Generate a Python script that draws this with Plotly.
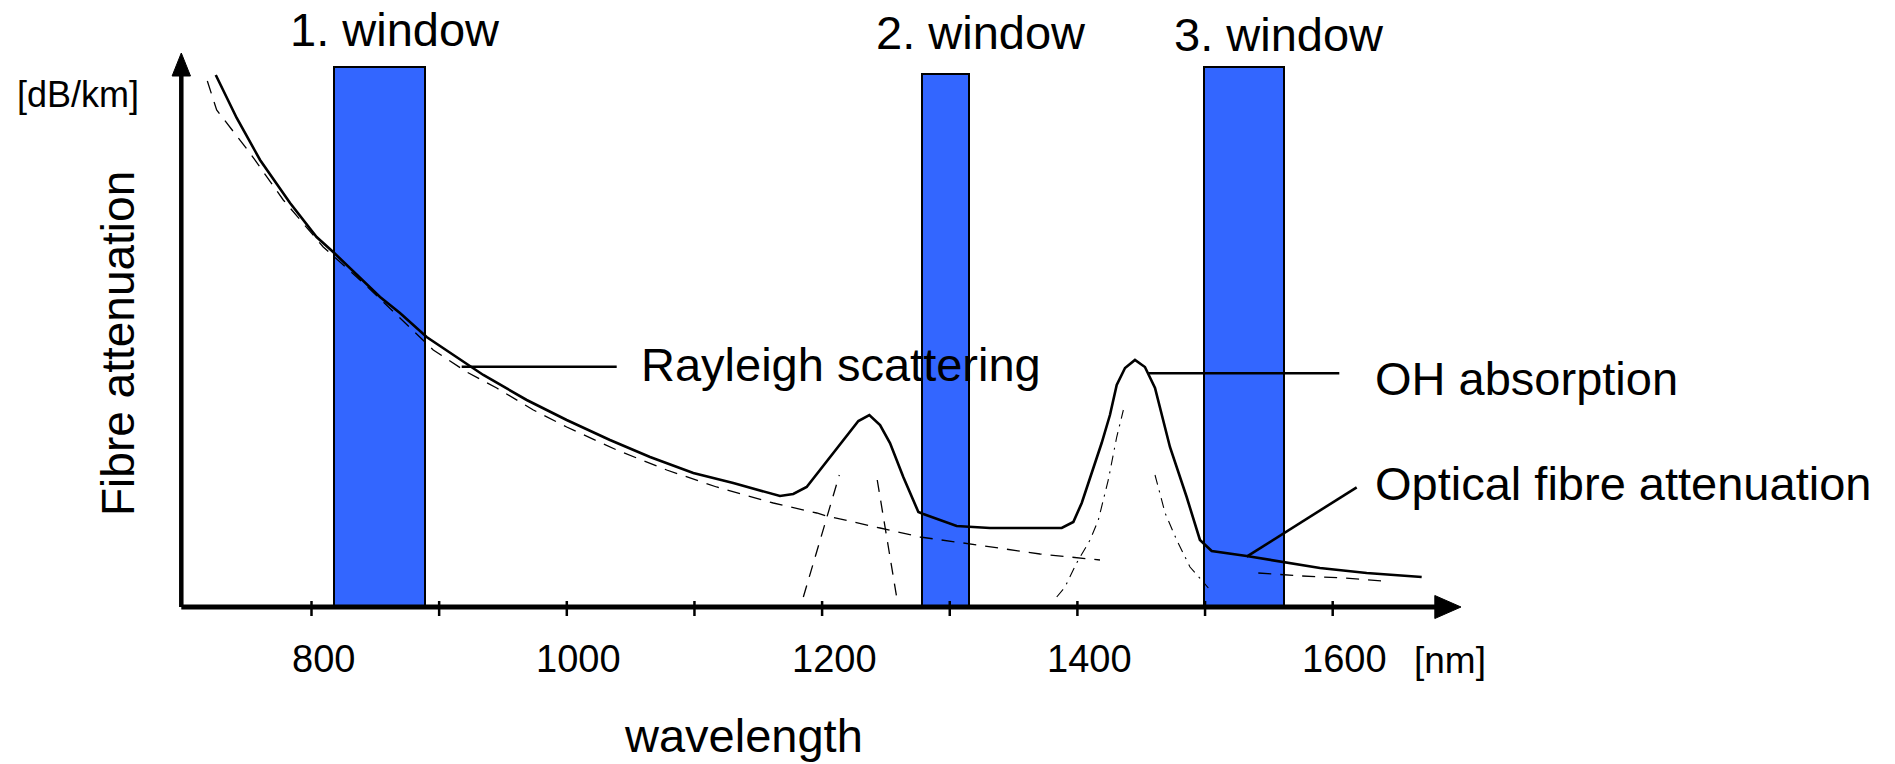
import plotly.graph_objects as go

# ---------------- data ----------------
# total optical fibre attenuation (solid curve)
wl_total = [725, 741.4, 759.7, 783.2, 804, 817, 853.7, 869.3, 890.2, 908.5,
            934.6, 968.6, 999.9, 1033.8, 1065.2, 1099.1, 1130.4, 1167, 1177.4, 1187.9,
            1200.9, 1216.6, 1228.4, 1237, 1245.4, 1253.2, 1263.6, 1275.4, 1279.3, 1305.4,
            1315.9, 1331.5, 1387.7, 1396.8, 1403.4, 1411.2, 1419, 1425.5, 1430.8, 1437.3,
            1445.1, 1452.9, 1460.8, 1472.5, 1485.6, 1496, 1505.2, 1532.6, 1561.3, 1590,
            1626.6, 1669.7]
att_total = [5.32, 4.89, 4.47, 4.04, 3.70, 3.55, 3.10, 2.94, 2.70, 2.54,
             2.32, 2.07, 1.87, 1.67, 1.50, 1.34, 1.24, 1.11, 1.13, 1.20,
             1.41, 1.67, 1.86, 1.92, 1.82, 1.64, 1.30, 0.95, 0.93, 0.81,
             0.80, 0.79, 0.79, 0.85, 1.04, 1.34, 1.64, 1.92, 2.22, 2.39,
             2.47, 2.40, 2.19, 1.60, 1.10, 0.67, 0.56, 0.51, 0.45, 0.39,
             0.34, 0.30]

# Rayleigh scattering (dashed)
wl_ray = [718.4, 725.7, 751.8, 777.9, 809.2, 840.6, 869.3, 895.4, 921.6, 945.1,
          973.8, 999.9, 1039.1, 1078.3, 1117.4, 1161.8, 1195.8, 1203.6, 1245.4, 1276.7,
          1310.6, 1349.8, 1370.7, 1417.7, None, 1541.7, 1575.7, 1608.3, 1639.6]
att_ray = [5.26, 4.97, 4.54, 4.07, 3.60, 3.24, 2.89, 2.57, 2.35, 2.19,
           1.97, 1.80, 1.57, 1.37, 1.20, 1.04, 0.94, 0.91, 0.79, 0.70,
           0.64, 0.57, 0.53, 0.47, None, 0.34, 0.31, 0.29, 0.26]

# absorption peak components (dashed / dash-dot)
wl_peak1 = [1185.3, 1213.5, None, 1243.2, 1258.4]
att_peak1 = [0.10, 1.32, None, 1.27, 0.10]
wl_peak2 = [1383.8, 1390.3, 1399.4, 1409.9, 1416.4, 1424.2, 1430.8, 1436, None,
            1460.8, 1468.7, 1477.8, 1488.2, 1502.6]
att_peak2 = [0.10, 0.20, 0.44, 0.67, 0.87, 1.27, 1.70, 1.97, None,
             1.32, 0.94, 0.67, 0.40, 0.19]

# transmission windows
win_labels = ["1. window", "2. window", "3. window"]
win_start = [818, 1278.5, 1499]
win_end = [889, 1315, 1562]
win_height = [5.40, 5.33, 5.40]

# axis ticks
tick_vals = [800, 900, 1000, 1100, 1200, 1300, 1400, 1500, 1600]
tick_labels = ["800", "", "1000", "", "1200", "", "1400", "", "1600"]

# ---------------- layout helpers (pixel geometry) ----------------
W, H = 1895, 764
X0_NM, X1_NM = 555.97, 2040.5      # data range covering full width
Y0, Y1 = -1.57, 6.07               # data range covering full height


def px(xpix):
    return xpix / W


def py(ypix):
    return 1 - ypix / H


FONT = "Liberation Sans, Arial, sans-serif"
BLUE = "#3366FF"

fig = go.Figure()

# windows (bars)
centers = [(a + b) / 2 for a, b in zip(win_start, win_end)]
widths = [b - a for a, b in zip(win_start, win_end)]
fig.add_trace(go.Bar(x=centers, y=win_height, width=widths, base=0,
                     marker=dict(color=BLUE, line=dict(color="black", width=2)),
                     showlegend=False, hoverinfo="skip"))

# component curves
fig.add_trace(go.Scatter(x=wl_ray, y=att_ray, mode="lines",
                         line=dict(color="black", width=1.3, dash="13px,9px"),
                         connectgaps=False, showlegend=False, hoverinfo="skip"))
fig.add_trace(go.Scatter(x=wl_peak1, y=att_peak1, mode="lines",
                         line=dict(color="black", width=1.3, dash="12px,9px"),
                         connectgaps=False, showlegend=False, hoverinfo="skip"))
fig.add_trace(go.Scatter(x=wl_peak2, y=att_peak2, mode="lines",
                         line=dict(color="black", width=1.1, dash="10px,6px,2px,6px"),
                         connectgaps=False, showlegend=False, hoverinfo="skip"))
# total attenuation
fig.add_trace(go.Scatter(x=wl_total, y=att_total, mode="lines",
                         line=dict(color="black", width=2.6),
                         showlegend=False, hoverinfo="skip"))

# tick marks on x-axis
tx, ty = [], []
for v in tick_vals:
    tx += [v, v, None]
    ty += [0.06, -0.09, None]
fig.add_trace(go.Scatter(x=tx, y=ty, mode="lines", line=dict(color="black", width=2.5),
                         showlegend=False, hoverinfo="skip"))

shapes = []
ax_x0 = 698.0
# axes lines
shapes.append(dict(type="line", xref="x", yref="y", x0=ax_x0, y0=0, x1=1682, y1=0,
                   line=dict(color="black", width=5)))
shapes.append(dict(type="line", xref="x", yref="y", x0=ax_x0, y0=0, x1=ax_x0, y1=5.34,
                   line=dict(color="black", width=4.5)))
# arrow heads
shapes.append(dict(type="path", xref="x", yref="y",
                   path="M 1680 0.115 L 1700.5 0 L 1680 -0.115 Z",
                   fillcolor="black", line=dict(color="black", width=1)))
shapes.append(dict(type="path", xref="x", yref="y",
                   path=f"M {ax_x0-7.2} 5.31 L {ax_x0} 5.54 L {ax_x0+7.2} 5.31 Z",
                   fillcolor="black", line=dict(color="black", width=1)))
# leader lines
shapes.append(dict(type="line", xref="paper", yref="paper", x0=px(461.7), y0=py(366.7),
                   x1=px(616.7), y1=py(366.7), line=dict(color="black", width=2.6)))
shapes.append(dict(type="line", xref="paper", yref="paper", x0=px(1148.3), y0=py(373.3),
                   x1=px(1339.3), y1=py(373.3), line=dict(color="black", width=2.6)))
shapes.append(dict(type="line", xref="paper", yref="paper", x0=px(1246.7), y0=py(556.7),
                   x1=px(1356.7), y1=py(487.3), line=dict(color="black", width=2.6)))

ann = []


def text(t, x, y, size, xanchor="center", yanchor="middle", angle=0):
    ann.append(dict(text=t, x=px(x), y=py(y), xref="paper", yref="paper",
                    xanchor=xanchor, yanchor=yanchor, showarrow=False, textangle=angle,
                    font=dict(family=FONT, size=size, color="black")))


win_label_x = [395, 981, 1279]
win_label_y = [29, 33, 34]
for lab, x, y in zip(win_labels, win_label_x, win_label_y):
    text(lab, x, y, 47)

text("[dB/km]", 14.5, 94, 36, xanchor="left")
text("Fibre attenuation", 118, 344, 46, angle=-90)
text("Rayleigh scattering", 639, 365, 47, xanchor="left")
text("OH absorption", 1372.7, 378, 47, xanchor="left")
text("Optical fibre attenuation", 1372.7, 483, 47, xanchor="left")
text("wavelength", 743, 735, 47)
text("[nm]", 1411.6, 660, 37, xanchor="left")

for v, lab in zip(tick_vals, tick_labels):
    if lab:
        ann.append(dict(text=lab, x=v, y=py(658.7), xref="x", yref="paper", xshift=12,
                        xanchor="center", yanchor="middle", showarrow=False,
                        font=dict(family=FONT, size=38, color="black")))

fig.update_layout(
    width=W, height=H, autosize=False,
    margin=dict(l=0, r=0, t=0, b=0, pad=0),
    paper_bgcolor="white", plot_bgcolor="white",
    xaxis=dict(range=[X0_NM, X1_NM], visible=False, fixedrange=True),
    yaxis=dict(range=[Y0, Y1], visible=False, fixedrange=True),
    shapes=shapes, annotations=ann, bargap=0, showlegend=False,
)

fig.write_html("out.html", config={"displayModeBar": False},
               post_script="document.body.style.margin='0';document.body.style.overflow='hidden';")
